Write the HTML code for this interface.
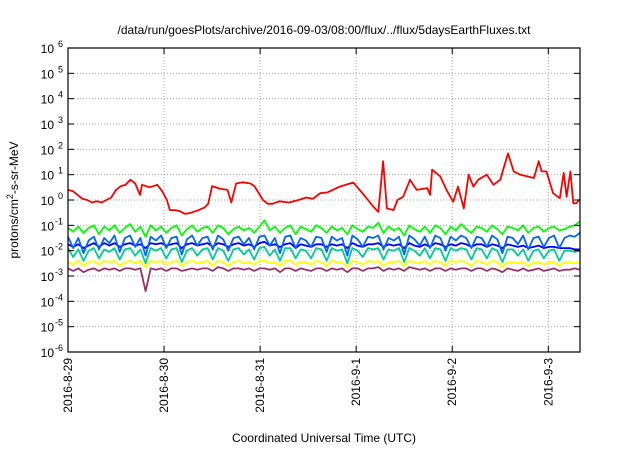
<!DOCTYPE html>
<html><head><meta charset="utf-8"><style>
body{margin:0;background:#fff;}
svg text{font-family:"Liberation Sans",sans-serif;fill:#000;}
</style></head><body>
<svg id="chart" width="640" height="448" viewBox="0 0 640 448" xmlns="http://www.w3.org/2000/svg">
<text x="324" y="34" font-size="12" text-anchor="middle">/data/run/goesPlots/archive/2016-09-03/08:00/flux/../flux/5daysEarthFluxes.txt</text>
<g id="grid"></g>
<g id="series"></g>
<rect x="68" y="48" width="512" height="304" fill="none" stroke="#000" stroke-width="1.2"/>
<g id="axes"></g>
<text x="324" y="442" font-size="12" text-anchor="middle">Coordinated Universal Time (UTC)</text>
<text transform="translate(18,200) rotate(-90)" font-size="12" text-anchor="middle">protons/cm<tspan dy="-5" font-size="9">2</tspan><tspan dy="5">-s-sr-MeV</tspan></text>
</svg>
<script>
const xTickLabels = ["2016-8-29","2016-8-30","2016-8-31","2016-9-1","2016-9-2","2016-9-3"];
const yTickExponents = [-6,-5,-4,-3,-2,-1,0,1,2,3,4,5,6];
const redTimes = [0,0.05,0.1,0.15,0.2,0.25,0.3,0.35,0.4,0.45,0.5,0.55,0.6,0.65,0.7,0.75,0.77,0.85,0.93,0.98,1.03,1.06,1.12,1.17,1.22,1.28,1.36,1.42,1.46,1.5,1.58,1.66,1.7,1.75,1.82,1.9,1.94,2.03,2.08,2.13,2.2,2.3,2.4,2.48,2.55,2.625,2.7,2.83,2.97,3.08,3.18,3.23,3.28,3.32,3.39,3.43,3.49,3.56,3.63,3.74,3.77,3.79,3.875,3.94,4.01,4.06,4.12,4.17,4.22,4.27,4.36,4.43,4.5,4.53,4.58,4.64,4.71,4.78,4.85,4.9,4.93,4.98,5.05,5.12,5.16,5.19,5.23,5.26,5.29,5.33];
const redLog = [0.4,0.35,0.2,0.05,0,-0.1,-0.05,-0.1,0,0.1,0.4,0.55,0.6,0.8,0.65,0.2,0.6,0.5,0.6,0.35,0,-0.4,-0.4,-0.45,-0.55,-0.5,-0.4,-0.3,-0.15,0.55,0.45,0.4,-0.1,0.65,0.7,0.65,0.55,0.0,-0.15,-0.15,-0.05,-0.1,0.0,0.1,0.05,0.27,0.3,0.53,0.69,0.2,-0.27,-0.47,1.53,-0.33,-0.4,0,0.13,0.8,0.4,0.47,0.2,1.2,0.93,0.4,-0.07,0.53,-0.33,1.0,0.53,0.8,1.0,0.6,0.8,1.2,1.84,1.13,1.0,0.93,0.87,1.53,1.13,1.13,0.27,0.07,1.07,0.13,1.13,-0.13,-0.13,0.03];
const greenLog = [-1.1,-1.25,-1.05,-1.3,-1.1,-1.0,-1.35,-1.05,-1.2,-1.0,-1.3,-1.1,-0.95,-1.25,-1.05,-1.45,-1.0,-1.2,-1.05,-1.3,-1.1,-1.0,-1.4,-1.15,-1.0,-1.25,-1.1,-1.05,-1.3,-1.0,-1.1,-1.35,-1.15,-1.05,-1.2,-1.1,-1.3,-1.05,-0.8,-1.2,-1.05,-1.3,-1.1,-1.0,-1.35,-1.05,-1.15,-1.25,-1.0,-1.1,-1.3,-1.05,-1.2,-1.1,-1.35,-1.0,-1.15,-1.25,-1.05,-1.1,-0.9,-1.3,-1.05,-1.2,-1.1,-1.4,-1.0,-1.15,-1.25,-1.05,-1.3,-1.0,-1.1,-1.35,-1.05,-1.2,-0.95,-1.15,-1.3,-1.05,-1.1,-1.25,-1.0,-1.15,-1.35,-1.05,-1.1,-1.2,-1.0,-1.3,-1.1,-1.05,-1.25,-1.1,-1.05,-1.2,-1.15,-1.05,-1.0,-0.85];
const lightBlueLog = [-1.45,-1.9,-1.5,-2.1,-1.6,-1.45,-1.95,-1.5,-1.7,-1.4,-2.05,-1.5,-1.4,-1.85,-1.5,-2.2,-1.45,-1.6,-1.4,-1.9,-1.5,-1.45,-2.15,-1.55,-1.4,-1.8,-1.5,-1.45,-1.95,-1.4,-1.55,-2.0,-1.5,-1.45,-1.75,-1.5,-1.95,-1.45,-1.4,-1.8,-1.5,-2.1,-1.45,-1.4,-1.9,-1.5,-1.6,-1.85,-1.45,-1.5,-2.05,-1.45,-1.6,-1.5,-2.2,-1.4,-1.55,-1.85,-1.45,-1.5,-1.4,-1.95,-1.5,-1.6,-1.45,-2.15,-1.4,-1.55,-1.8,-1.45,-1.9,-1.4,-1.5,-2.0,-1.45,-1.6,-1.4,-1.5,-1.9,-1.45,-1.5,-1.85,-1.4,-1.55,-2.1,-1.45,-1.5,-1.75,-1.4,-1.95,-1.5,-1.45,-1.85,-1.5,-1.4,-1.9,-1.5,-1.4,-1.45,-1.3];
const blueLog = [-1.75,-1.85,-1.75,-1.9,-1.8,-1.7,-1.85,-1.7,-1.8,-1.7,-1.85,-1.75,-1.7,-1.8,-1.75,-1.9,-1.7,-1.75,-1.7,-1.8,-1.75,-1.7,-1.9,-1.75,-1.7,-1.8,-1.75,-1.7,-1.85,-1.7,-1.75,-1.85,-1.75,-1.7,-1.8,-1.75,-1.85,-1.7,-1.65,-1.8,-1.75,-1.85,-1.75,-1.7,-1.9,-1.75,-1.8,-1.85,-1.75,-1.75,-1.85,-1.75,-1.8,-1.75,-1.9,-1.7,-1.8,-1.85,-1.75,-1.75,-1.7,-1.85,-1.75,-1.8,-1.75,-1.9,-1.7,-1.8,-1.85,-1.75,-1.85,-1.7,-1.75,-1.85,-1.75,-1.8,-1.7,-1.75,-1.85,-1.75,-1.75,-1.85,-1.75,-1.8,-1.9,-1.75,-1.8,-1.85,-1.8,-1.9,-1.85,-1.8,-1.9,-1.85,-1.85,-1.9,-1.9,-1.9,-1.95,-1.95];
const tealLog = [-1.9,-2.25,-1.95,-2.4,-2.0,-1.9,-2.3,-1.95,-2.05,-1.9,-2.35,-1.95,-1.9,-2.2,-1.95,-2.5,-1.9,-2.0,-1.9,-2.3,-1.95,-1.9,-2.45,-2.0,-1.9,-2.2,-1.95,-1.9,-2.35,-1.9,-2.0,-2.4,-1.95,-1.9,-2.15,-1.95,-2.35,-1.9,-1.85,-2.2,-1.95,-2.4,-1.9,-1.9,-2.3,-1.95,-2.0,-2.3,-1.9,-1.95,-2.4,-1.9,-2.0,-1.95,-2.5,-1.9,-2.0,-2.25,-1.9,-1.95,-1.9,-2.35,-1.95,-2.0,-1.9,-2.45,-1.9,-2.0,-2.2,-1.9,-2.3,-1.9,-1.95,-2.4,-1.9,-2.0,-1.9,-1.95,-2.35,-1.9,-1.95,-2.3,-1.9,-2.0,-2.45,-1.95,-1.95,-2.2,-1.95,-2.4,-2.0,-1.95,-2.3,-2.0,-1.95,-2.4,-2.0,-2.0,-2.05,-2.0];
const yellowLog = [-2.45,-2.55,-2.4,-2.6,-2.45,-2.4,-2.55,-2.4,-2.45,-2.4,-2.6,-2.45,-2.4,-2.5,-2.4,-2.65,-2.4,-2.45,-2.4,-2.55,-2.45,-2.4,-2.6,-2.45,-2.4,-2.5,-2.45,-2.4,-2.6,-2.4,-2.45,-2.6,-2.45,-2.4,-2.5,-2.45,-2.55,-2.4,-2.4,-2.5,-2.45,-2.6,-2.4,-2.4,-2.55,-2.45,-2.45,-2.55,-2.4,-2.45,-2.6,-2.4,-2.45,-2.45,-2.65,-2.4,-2.45,-2.55,-2.4,-2.45,-2.4,-2.6,-2.45,-2.45,-2.4,-2.6,-2.4,-2.45,-2.5,-2.4,-2.55,-2.4,-2.45,-2.6,-2.4,-2.45,-2.4,-2.45,-2.6,-2.4,-2.45,-2.55,-2.4,-2.45,-2.65,-2.45,-2.45,-2.5,-2.45,-2.6,-2.45,-2.45,-2.55,-2.45,-2.45,-2.6,-2.45,-2.45,-2.5,-2.45];
const purpleLog = [-2.7,-2.8,-2.7,-2.85,-2.75,-2.7,-2.8,-2.7,-2.75,-2.7,-2.8,-2.7,-2.7,-2.75,-2.7,-3.6,-2.7,-2.75,-2.7,-2.8,-2.7,-2.7,-2.8,-2.75,-2.7,-2.75,-2.7,-2.7,-2.8,-2.65,-2.7,-2.8,-2.7,-2.7,-2.75,-2.7,-2.8,-2.7,-2.7,-2.75,-2.7,-2.85,-2.7,-2.7,-2.8,-2.7,-2.75,-2.8,-2.7,-2.7,-2.8,-2.7,-2.75,-2.7,-2.85,-2.7,-2.7,-2.8,-2.7,-2.7,-2.65,-2.8,-2.7,-2.75,-2.7,-2.8,-2.65,-2.7,-2.75,-2.7,-2.8,-2.7,-2.7,-2.8,-2.7,-2.75,-2.7,-2.7,-2.8,-2.7,-2.7,-2.8,-2.7,-2.75,-2.85,-2.7,-2.75,-2.8,-2.7,-2.8,-2.75,-2.7,-2.8,-2.75,-2.7,-2.8,-2.75,-2.75,-2.7,-2.75];

const NS="http://www.w3.org/2000/svg";
const X0=68,X1=580,Y0=352,Y1=48,DAYS=5.33;
const xS=d=>X0+d*(X1-X0)/DAYS;
const yS=l=>Y0-(l+6)*(Y0-Y1)/12;
function mk(tag,attrs,parent){const e=document.createElementNS(NS,tag);for(const k in attrs)e.setAttribute(k,attrs[k]);parent.appendChild(e);return e;}
const grid=document.getElementById('grid'),axes=document.getElementById('axes'),series=document.getElementById('series');
yTickExponents.forEach(p=>{
  const y=yS(p);
  if(p>-6&&p<6){const g=mk('line',{x1:X0,x2:X1,y1:y,y2:y,stroke:'#aaa','stroke-dasharray':'1,2','stroke-width':1},grid);
  
  }
  mk('line',{x1:X0,x2:X0+6,y1:y,y2:y,stroke:'#000'},axes);
  mk('line',{x1:X1-6,x2:X1,y1:y,y2:y,stroke:'#000'},axes);
  const t=mk('text',{x:X0-14,y:y+5,'font-size':12,'text-anchor':'end'},axes);
  
  
  t.textContent='10';
  const s=mk('tspan',{x:X0-5,dy:-6,'font-size':9,'text-anchor':'end'},t);s.textContent=String(p);
});
xTickLabels.forEach((lab,i)=>{
  const x=xS(i);
  if(i>0){const g=mk('line',{x1:x,x2:x,y1:Y1,y2:Y0,stroke:'#aaa','stroke-dasharray':'1,2','stroke-width':1},grid);
  
  }
  mk('line',{x1:x,x2:x,y1:Y0-6,y2:Y0,stroke:'#000'},axes);
  mk('line',{x1:x,x2:x,y1:Y1,y2:Y1+6,stroke:'#000'},axes);
  const t=mk('text',{transform:`translate(${x+4},358) rotate(-90)`,'font-size':12,'text-anchor':'end'},axes);
  
  
  t.textContent=lab;
});
function draw(times,vals,color,name){
  const pts=vals.map((v,i)=>{const d=times?times[i]:i*DAYS/(vals.length-1);return xS(d).toFixed(1)+','+yS(v).toFixed(1);}).join(' ');
  const p=mk('polyline',{points:pts,fill:'none',stroke:color,'stroke-width':1.8,'stroke-linejoin':'round'},series);
  
  
}
draw(null,purpleLog,'#993366','series-purple');
draw(null,yellowLog,'#ffff00','series-yellow');
draw(null,tealLog,'#00cc99','series-teal');
draw(null,blueLog,'#0000ff','series-blue');
draw(null,lightBlueLog,'#0066ff','series-light-blue');
draw(null,greenLog,'#00ff00','series-green');
draw(redTimes,redLog,'#ff0000','series-red');
</script>
</body></html>
